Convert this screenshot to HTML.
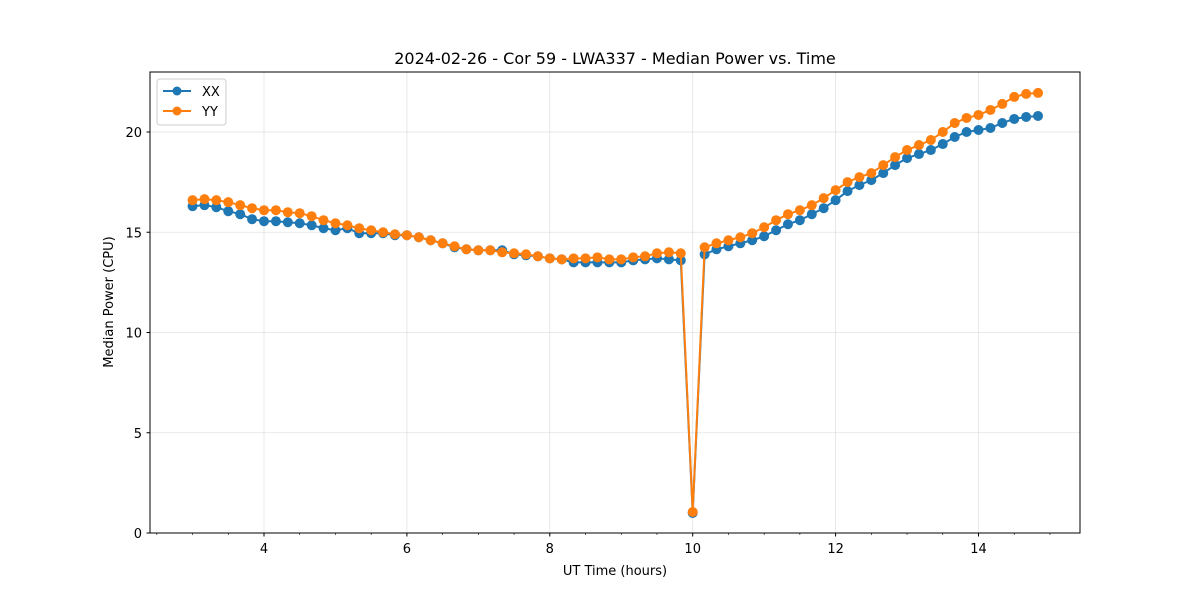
<!DOCTYPE html>
<html><head><meta charset="utf-8"><style>
body{margin:0;background:#fff;}
svg text{font-family:"DejaVu Sans","Liberation Sans",sans-serif;fill:#000;}
</style></head><body>
<svg id="chart" width="1200" height="600" xmlns="http://www.w3.org/2000/svg">
<rect width="1200" height="600" fill="#fff"/>
<g id="grid"></g>
<g id="series"></g>
<rect x="150" y="72" width="930" height="461" fill="none" stroke="#000" stroke-width="1"/>
<g id="ticks"></g>
<text x="615" y="64" font-size="16" text-anchor="middle">2024-02-26 - Cor 59 - LWA337 - Median Power vs. Time</text>
<text x="615" y="575" font-size="13" text-anchor="middle">UT Time (hours)</text>
<text transform="translate(113,302) rotate(-90)" font-size="13" text-anchor="middle">Median Power (CPU)</text>
<g>
<rect x="157" y="79" width="69" height="46" fill="#fff" fill-opacity="0.8" stroke="#ccc" rx="3"/>
<line x1="163" y1="91" x2="191" y2="91" stroke="#1f77b4" stroke-width="2"/><circle cx="177" cy="91" r="4.5" fill="#1f77b4"/>
<text x="202" y="96" font-size="13">XX</text>
<line x1="163" y1="111" x2="191" y2="111" stroke="#ff7f0e" stroke-width="2"/><circle cx="177" cy="111" r="4.5" fill="#ff7f0e"/>
<text x="202" y="116" font-size="13">YY</text>
</g>
</svg>
<script>
const times=[3.0,3.167,3.333,3.5,3.667,3.833,4.0,4.167,4.333,4.5,4.667,4.833,5.0,5.167,5.333,5.5,5.667,5.833,6.0,6.167,6.333,6.5,6.667,6.833,7.0,7.167,7.333,7.5,7.667,7.833,8.0,8.167,8.333,8.5,8.667,8.833,9.0,9.167,9.333,9.5,9.667,9.833,10.0,10.167,10.333,10.5,10.667,10.833,11.0,11.167,11.333,11.5,11.667,11.833,12.0,12.167,12.333,12.5,12.667,12.833,13.0,13.167,13.333,13.5,13.667,13.833,14.0,14.167,14.333,14.5,14.667,14.833];
const xxValues=[16.3,16.35,16.25,16.05,15.9,15.65,15.55,15.55,15.5,15.45,15.35,15.2,15.1,15.2,14.95,14.95,14.95,14.85,14.85,14.75,14.6,14.45,14.25,14.15,14.1,14.1,14.1,13.9,13.85,13.8,13.7,13.65,13.5,13.5,13.5,13.5,13.5,13.6,13.65,13.7,13.65,13.6,1.0,13.9,14.15,14.3,14.45,14.6,14.8,15.1,15.4,15.6,15.9,16.2,16.6,17.05,17.35,17.6,17.95,18.35,18.7,18.9,19.1,19.4,19.75,20.0,20.1,20.2,20.45,20.65,20.75,20.8];
const yyValues=[16.6,16.65,16.6,16.5,16.35,16.2,16.1,16.1,16.0,15.95,15.8,15.6,15.45,15.35,15.2,15.1,15.0,14.9,14.85,14.75,14.6,14.45,14.3,14.15,14.1,14.1,14.0,13.95,13.9,13.8,13.7,13.65,13.7,13.7,13.75,13.65,13.65,13.75,13.8,13.95,14.0,13.95,1.05,14.25,14.45,14.6,14.75,14.95,15.25,15.6,15.9,16.1,16.35,16.7,17.1,17.5,17.75,17.95,18.35,18.75,19.1,19.35,19.6,20.0,20.45,20.7,20.85,21.1,21.4,21.75,21.9,21.95];
const xTicks=[4,6,8,10,12,14];
const yTicks=[0,5,10,15,20];
const NS="http://www.w3.org/2000/svg";
const X=v=>264+(v-4)*71.45;
const Y=v=>533-v*20.05;
function mk(tag,attrs,parent){const e=document.createElementNS(NS,tag);for(const k in attrs)e.setAttribute(k,attrs[k]);document.getElementById(parent).appendChild(e);return e;}
xTicks.forEach(t=>{
  const g=mk('line',{x1:X(t),x2:X(t),y1:72,y2:533,stroke:'#b0b0b0','stroke-opacity':0.35,'stroke-width':0.8},'grid');
  
  
  mk('line',{x1:X(t),x2:X(t),y1:533,y2:536.5,stroke:'#000'},'ticks');
  const tx=mk('text',{x:X(t),y:553,'font-size':13,'text-anchor':'middle'},'ticks');tx.textContent=t;
  
  
});
for(let m=2.5;m<15.5;m+=0.5){if(Number.isInteger(m/2))continue;mk('line',{x1:X(m),x2:X(m),y1:533,y2:535,stroke:'#000','stroke-width':0.6},'ticks');}
yTicks.forEach(t=>{
  const g=mk('line',{x1:150,x2:1080,y1:Y(t),y2:Y(t),stroke:'#b0b0b0','stroke-opacity':0.35,'stroke-width':0.8},'grid');
  
  
  mk('line',{x1:146.5,x2:150,y1:Y(t),y2:Y(t),stroke:'#000'},'ticks');
  const tx=mk('text',{x:142,y:Y(t)+5,'font-size':13,'text-anchor':'end'},'ticks');tx.textContent=t;
  
  
});
function drawSeries(vals,color,name){
  const pts=times.map((t,i)=>X(t)+','+Y(vals[i])).join(' ');
  const pl=mk('polyline',{points:pts,fill:'none',stroke:color,'stroke-width':2},'series');
  
  
  times.forEach((t,i)=>{
    const c=mk('circle',{cx:X(t),cy:Y(vals[i]),r:5,fill:color},'series');
    
    
  });
}
drawSeries(xxValues,'#1f77b4','xx');
drawSeries(yyValues,'#ff7f0e','yy');
</script>
</body></html>
